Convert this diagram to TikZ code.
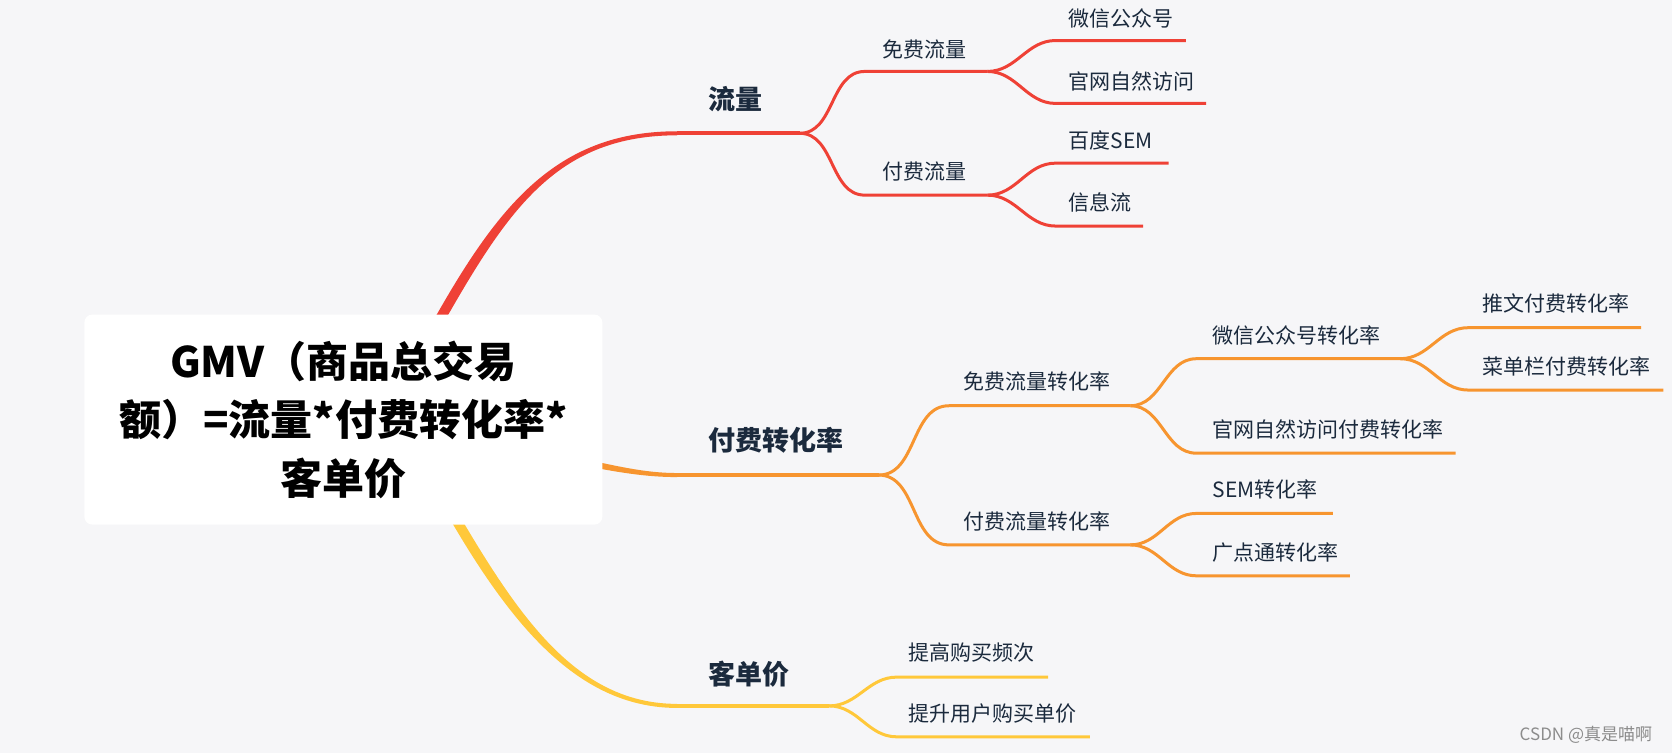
\documentclass[tikz,border=0pt]{standalone}
\usepackage{fontspec}
\setmainfont{Noto Sans CJK SC}
\definecolor{bg}{HTML}{F6F6F8}
\definecolor{cR}{HTML}{EF4136}
\definecolor{cO}{HTML}{F7952F}
\definecolor{cY}{HTML}{FFC83A}
\definecolor{txt}{HTML}{1B2A3D}
\begin{document}
\begin{tikzpicture}[x=1.0663pt,y=-1.0663pt,
  lab/.style={anchor=west,inner sep=0pt,text=txt,font=\fontsize{21}{25}\selectfont},
  mlab/.style={anchor=west,inner sep=0pt,text=txt,font=\fontsize{27}{32}\selectfont\bfseries},
  rmain/.style={draw=cR,line width=3.8pt},
  omain/.style={draw=cO,line width=3.8pt},
  ymain/.style={draw=cY,line width=3.8pt},
  rsub/.style={draw=cR,line width=3pt},
  osub/.style={draw=cO,line width=3pt},
  ysub/.style={draw=cY,line width=3pt},
  sc/.style={out=0,in=180}]
\fill[bg] (0,0) rectangle (1568,706);
\useasboundingbox (0,0) rectangle (1568,706);
% tapered main branches
\fill[cR] (389.2,349.3) -- (419.1,297.3) .. controls (478.6,193.3) and (525,126.9) .. (635,126.9) -- (635,123.1) .. controls (525,123.1) and (470.4,188.7) .. (410.9,292.7) -- (381,344.7) -- cycle;
\fill[cY] (404.3,439.1) -- (435,490.6) .. controls (491.4,585.4) and (545,660.1) .. (635,660.1) -- (635,663.9) .. controls (545,663.9) and (483.4,590.2) .. (427,495.4) -- (396.3,443.9) -- cycle;
\fill[cO] (519.4,431.1) .. controls (569.4,441.1) and (600,447.4) .. (635,447.4) -- (635,443.6) .. controls (600,443.6) and (570.6,434.9) .. (520.6,424.9) -- cycle;
% central box
\node[fill=white,rounded corners=8pt,minimum width=518pt,minimum height=210pt,inner sep=0pt,align=center,
  font=\fontsize{42}{58.6}\selectfont\bfseries,text=black] (root) at (322,393.5)
  {GMV（商品总交易\\额）=流量*付费转化率*\\客单价};
% ---------- red ----------
\coordinate (rE) at (635,125); \coordinate (rF) at (750,125);
\draw[rmain] (rE) -- (rF);
\coordinate (r1s) at (811,67);  \coordinate (r1e) at (926,67);
\coordinate (r2s) at (811,183); \coordinate (r2e) at (926,183);
\draw[rsub] (rF) to[sc] (r1s) -- (r1e);
\draw[rsub] (rF) to[sc] (r2s) -- (r2e);
\coordinate (r11s) at (990,38);  \coordinate (r11e) at (1112,38);
\coordinate (r12s) at (990,97);  \coordinate (r12e) at (1131,97);
\coordinate (r21s) at (990,153); \coordinate (r21e) at (1096,153);
\coordinate (r22s) at (990,212); \coordinate (r22e) at (1072,212);
\draw[rsub] (r1e) to[sc] (r11s) -- (r11e);
\draw[rsub] (r1e) to[sc] (r12s) -- (r12e);
\draw[rsub] (r2e) to[sc] (r21s) -- (r21e);
\draw[rsub] (r2e) to[sc] (r22s) -- (r22e);
\node[mlab] (lR) at (664,93) {流量};
\node[lab] (lR1) at (827,46) {免费流量};
\node[lab] (lR2) at (827,161) {付费流量};
\node[lab] (lR11) at (1002,17) {微信公众号};
\node[lab] (lR12) at (1002,76) {官网自然访问};
\node[lab] (lR21) at (1002,132) {百度SEM};
\node[lab] (lR22) at (1002,190) {信息流};
% ---------- orange ----------
\coordinate (oE) at (635,445.5); \coordinate (oF) at (824,445.5);
\draw[omain] (oE) -- (oF);
\coordinate (o1s) at (890,380.5); \coordinate (o1e) at (1060,380.5);
\coordinate (o2s) at (890,511);   \coordinate (o2e) at (1060,511);
\draw[osub] (oF) to[sc] (o1s) -- (o1e);
\draw[osub] (oF) to[sc] (o2s) -- (o2e);
\coordinate (o11s) at (1122,336.4); \coordinate (o11e) at (1313,336.4);
\coordinate (o12s) at (1122,425);   \coordinate (o12e) at (1365,425);
\draw[osub] (o1e) to[sc] (o11s) -- (o11e);
\draw[osub] (o1e) to[sc] (o12s) -- (o12e);
\coordinate (o111s) at (1377,307.3); \coordinate (o111e) at (1539,307.3);
\coordinate (o112s) at (1377,365.8); \coordinate (o112e) at (1560,365.8);
\draw[osub] (o11e) to[sc] (o111s) -- (o111e);
\draw[osub] (o11e) to[sc] (o112s) -- (o112e);
\coordinate (o21s) at (1122,481.5); \coordinate (o21e) at (1250,481.5);
\coordinate (o22s) at (1122,540);   \coordinate (o22e) at (1266,540);
\draw[osub] (o2e) to[sc] (o21s) -- (o21e);
\draw[osub] (o2e) to[sc] (o22s) -- (o22e);
\node[mlab] (lO) at (664,413) {付费转化率};
\node[lab] (lO1) at (903,358) {免费流量转化率};
\node[lab] (lO2) at (903,489) {付费流量转化率};
\node[lab] (lO11) at (1137,315) {微信公众号转化率};
\node[lab] (lO12) at (1137,403) {官网自然访问付费转化率};
\node[lab] (lO111) at (1390,285) {推文付费转化率};
\node[lab] (lO112) at (1390,344) {菜单栏付费转化率};
\node[lab] (lO21) at (1137,459) {SEM转化率};
\node[lab] (lO22) at (1137,518) {广点通转化率};
% ---------- yellow ----------
\coordinate (yE) at (635,662); \coordinate (yF) at (777.5,662);
\draw[ymain] (yE) -- (yF);
\coordinate (y1s) at (841,635); \coordinate (y1e) at (983,635);
\coordinate (y2s) at (841,691); \coordinate (y2e) at (1022,691);
\draw[ysub] (yF) to[sc] (y1s) -- (y1e);
\draw[ysub] (yF) to[sc] (y2s) -- (y2e);
\node[mlab] (lY) at (664,632) {客单价};
\node[lab] (lY1) at (852,612) {提高购买频次};
\node[lab] (lY2) at (852,669) {提升用户购买单价};
% watermark
\node[anchor=west,inner sep=0pt,text=black!45,font=\fontsize{17}{20}\selectfont] (wm) at (1425,689) {CSDN @真是喵啊};
\end{tikzpicture}
\end{document}
